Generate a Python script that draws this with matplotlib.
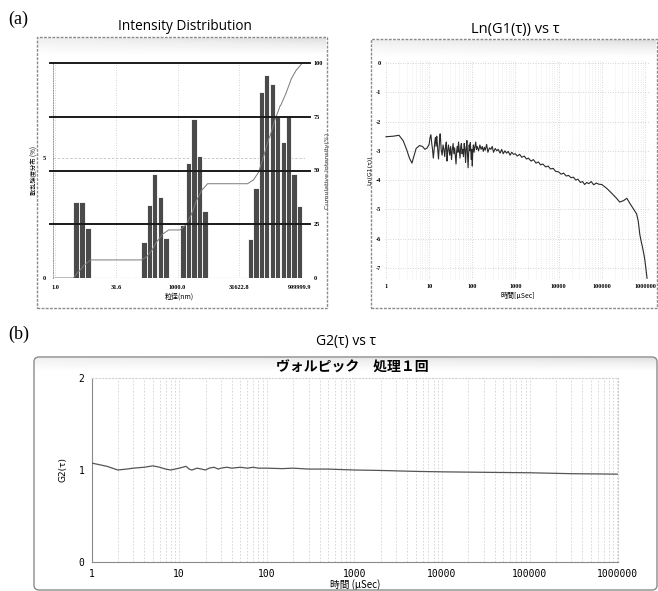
import numpy as np
import matplotlib
matplotlib.use("Agg")
import matplotlib.pyplot as plt
from matplotlib.patches import Rectangle, FancyBboxPatch
from matplotlib.ticker import FixedLocator, NullFormatter, LogLocator

# ---------------- data ----------------
# Intensity distribution (bars), size in nm and intensity %
size_nm = [3.27, 4.58, 6.43,
           151, 204, 275, 380, 525,
           1350, 1860, 2510, 3390, 4680,
           60300, 83200, 112000, 151000, 209000, 282000, 389000, 525000, 708000, 977000]
intensity_pct = [3.16, 3.16, 2.09,
                 1.50, 3.06, 4.35, 3.39, 1.65,
                 2.22, 4.79, 6.63, 5.07, 2.80,
                 1.64, 3.75, 7.75, 8.46, 8.10, 6.71, 5.65, 6.77, 4.34, 3.01]
size_ticks = [1.0, 31.6, 1000.0, 31622.8, 999999.9]
size_tick_labels = ["1.0", "31.6", "1000.0", "31622.8", "999999.9"]
cum_ticks = [0, 25, 50, 75, 100]

# Ln(G1(tau)) vs tau
tau_g1 = [1, 1.5, 2.0, 2.5, 3.0, 3.5, 4.0, 4.5, 5.0, 6.0, 7.0, 8.0, 9.0,
          10, 10.5, 11, 11.5, 12, 12.5, 13, 13.5, 14, 14.5, 15, 15.5, 16, 16.5, 17, 17.5,
          18, 18.5, 19, 20, 21, 22, 23, 24, 25, 26, 27, 28, 29, 30, 31.5, 33, 34.5,
          36, 37.5, 39, 40.5, 42, 43.5, 45, 46.5, 48, 50, 52, 54, 56, 58, 60, 62.5,
          65, 67.5, 70, 72.5, 75, 77.5, 80, 82.5, 85, 87.5, 90, 92.5, 95, 97.5,
          100, 103, 106, 110, 115, 120, 125, 130, 140, 150, 160, 170, 180, 190,
          200, 215, 230, 250, 270, 290, 310, 340, 370, 400, 440, 480, 520, 570,
          620, 680, 750, 820, 900, 1000, 1100, 1250, 1400, 1600, 1800, 2000, 2300,
          2600, 3000, 3400, 3800, 4300, 5000, 5700, 6500, 7500, 8500, 10000, 11500,
          13000, 15000, 17000, 19500, 22000, 25000, 28000, 32000, 36000, 40000,
          45000, 50000, 57000, 65000, 75000, 85000, 100000, 130000, 170000, 220000,
          260000, 320000, 380000, 450000, 550000, 640000, 700000, 760000, 820000,
          880000, 950000, 1000000, 1050000, 1100000, 1120000]
ln_g1 = [-2.52, -2.50, -2.47, -2.65, -2.95, -3.25, -3.42, -3.15, -2.92, -2.82, -2.85, -2.95, -2.90,
         -2.78, -2.55, -2.45, -2.75, -2.95, -3.25, -3.00, -2.70, -2.55, -2.85, -2.50, -2.75, -3.05, -3.28, -2.95, -2.60,
         -2.42, -2.65, -2.95, -3.15, -2.80, -2.95, -3.20, -2.85, -2.70, -3.35, -3.00, -2.80, -2.95, -3.15, -2.85, -3.30, -2.95,
         -2.75, -3.10, -2.90, -3.20, -3.45, -3.00, -2.85, -3.05, -2.70, -3.00, -3.25, -2.85, -2.75, -3.10, -2.95, -3.20,
         -2.75, -2.95, -3.40, -2.90, -2.65, -3.10, -3.58, -3.05, -2.80, -3.00, -2.72, -3.05, -3.30, -2.95,
         -3.52, -3.00, -2.80, -3.05, -2.85, -2.70, -2.95, -2.85, -3.00, -2.80, -2.95, -2.85, -3.02, -2.88,
         -2.98, -2.78, -3.05, -2.90, -2.95, -2.85, -3.05, -2.92, -3.00, -2.95, -3.08, -2.95, -3.10, -3.00,
         -3.08, -3.02, -3.15, -3.05, -3.12, -3.10, -3.18, -3.12, -3.22, -3.18, -3.28, -3.25, -3.35,
         -3.30, -3.42, -3.38, -3.48, -3.45, -3.55, -3.52, -3.62, -3.60, -3.70, -3.72, -3.80,
         -3.76, -3.86, -3.84, -3.92, -3.90, -4.00, -3.97, -4.08, -4.05, -4.15,
         -4.08, -4.12, -4.05, -4.16, -4.10, -4.14, -4.15, -4.28, -4.45, -4.62,
         -4.75, -4.70, -4.62, -4.80, -5.00, -5.15, -5.40, -5.85, -6.10,
         -6.30, -6.55, -6.75, -7.00, -7.25, -7.35]
tau_ticks = [1, 10, 100, 1000, 10000, 100000, 1000000]
tau_tick_labels = ["1", "10", "100", "1000", "10000", "100000", "1000000"]
lng1_ticks = [0, -1, -2, -3, -4, -5, -6, -7]

# G2(tau) vs tau
tau_g2 = [1, 1.5, 2, 2.5, 3, 4, 5, 6, 7, 8, 9, 10, 11, 12, 13, 14, 16, 18, 20,
          22, 25, 28, 30, 35, 40, 50, 60, 70, 80, 100, 150, 200, 300, 500,
          1000, 2000, 5000, 10000, 30000, 100000, 300000, 1000000]
g2 = [1.076, 1.04, 1.00, 1.01, 1.02, 1.03, 1.045, 1.03, 1.01, 1.00, 1.01, 1.02, 1.03, 1.04, 1.01, 1.00, 1.02, 1.01, 1.00,
      1.02, 1.03, 1.01, 1.02, 1.03, 1.02, 1.03, 1.02, 1.03, 1.02, 1.02, 1.015, 1.02, 1.01, 1.01,
      1.00, 0.995, 0.985, 0.98, 0.975, 0.97, 0.96, 0.955]
g2_ticks = [0, 1, 2]

# ---------------- layout helpers ----------------
W, H = 658, 591
fig = plt.figure(figsize=(W / 100, H / 100), dpi=100)
fig.patch.set_facecolor("white")


def rect(x0, y0, x1, y1):
    return [x0 / W, 1 - y1 / H, (x1 - x0) / W, (y1 - y0) / H]


def frame(x0, y0, x1, y1, band=18, rounded=False):
    if rounded:
        p = FancyBboxPatch((x0 / W, 1 - y1 / H), (x1 - x0) / W, (y1 - y0) / H,
                           boxstyle="round,pad=0,rounding_size=0.008",
                           transform=fig.transFigure, fill=False,
                           edgecolor="#8a8a8a", lw=1.0, zorder=0)
    else:
        p = Rectangle((x0 / W, 1 - y1 / H), (x1 - x0) / W, (y1 - y0) / H,
                      transform=fig.transFigure, fill=False,
                      edgecolor="#8a8a8a", lw=1.0, ls=(0, (2, 1)), zorder=0)
    fig.patches.append(p)
    gax = fig.add_axes(rect(x0 + 1, y0 + 1, x1 - 1, y0 + band))
    g = np.linspace(0.22, 0.0, 50)[:, None] * np.linspace(0.6, 1.0, 200)[None, :]
    gax.imshow(g, cmap="Greys", vmin=0, vmax=1, aspect="auto", interpolation="bilinear")
    gax.set_axis_off()
    gax.set_zorder(-1)


serif = "Liberation Serif"
jp = ["Noto Sans CJK JP", "DejaVu Sans"]
title_font = "Open Sans"
grid_kw = dict(color="#c8c8c8", lw=0.6, ls=(0, (1, 2)))

fig.text(8 / W, 1 - 19 / H, "(a)", fontsize=13, family=serif, va="center", ha="left")
fig.text(8 / W, 1 - 334 / H, "(b)", fontsize=13, family=serif, va="center", ha="left")

# ---------------- panel a-left: Intensity distribution ----------------
frame(37, 37, 327, 308)
fig.text(185 / W, 1 - 26 / H, "Intensity Distribution", fontsize=9.8, family=title_font,
         ha="center", va="center")

ax1 = fig.add_axes(rect(53, 63, 305, 278))
ax1.set_xscale("log")
ax1.set_xlim(0.893, 1.32e6)
ax1.set_ylim(0, 8.96)
half = 0.065
lefts = [s * 10 ** (-half) for s in size_nm]
widths = [s * (10 ** half - 10 ** (-half)) for s in size_nm]
ax1.bar(lefts, intensity_pct, width=widths, align="edge", color="#4a4a4a",
        edgecolor="white", lw=0.6, zorder=3)
for xt in size_ticks[:-1]:
    ax1.axvline(xt, zorder=1, **grid_kw)
ax1.axhline(5, color="#c0c0c0", lw=0.6, ls=(0, (3, 2)), zorder=1)
ax1.axhline(0, color="#888888", lw=0.8, ls=(0, (4, 2)), zorder=2)
for s in ["top", "right", "bottom"]:
    ax1.spines[s].set_visible(False)
ax1.spines["left"].set_color("#999999")
ax1.spines["left"].set_linestyle((0, (1, 1.5)))
ax1.spines["left"].set_linewidth(0.7)
ax1.xaxis.set_major_locator(FixedLocator(size_ticks))
ax1.xaxis.set_minor_locator(FixedLocator([]))
ax1.set_xticklabels(size_tick_labels, fontsize=4.5, family=serif, fontweight="bold")
ax1.set_yticks([0, 5])
ax1.set_yticklabels(["0", "5"], fontsize=4.5, family=serif, fontweight="bold")
ax1.tick_params(length=0, pad=5)
ax1.set_xlabel("粒径(nm)", fontsize=5, family=jp, labelpad=2)
ax1.set_ylabel("散乱強度分布 (%)", fontsize=4.5, family=jp, labelpad=3)

ax1r = ax1.twinx()
ax1r.set_ylim(0, 100)
cum = np.cumsum(intensity_pct)
cum = cum / cum[-1] * 100
cx, cy = [1.0], [0.0]
prev = 0.0
for l, w, c in zip(lefts, widths, cum):
    cx += [l, l + w]
    cy += [prev, c]
    prev = c
ax1r.plot(cx, cy, color="#7a7a7a", lw=0.7, zorder=4)
for yv in cum_ticks[1:]:
    ax1r.axhline(yv, xmin=-0.01, xmax=1.02, color="#1a1a1a", lw=1.4, clip_on=False, zorder=5)
for s in ["top", "left", "bottom", "right"]:
    ax1r.spines[s].set_visible(False)
ax1r.set_yticks(cum_ticks)
ax1r.set_yticklabels([str(v) for v in cum_ticks], fontsize=4.5, family=serif, fontweight="bold")
ax1r.tick_params(length=0, pad=6)
ax1r.set_ylabel("Cumulative Intensity(%)", fontsize=4.5, labelpad=2, color="#333333")

# ---------------- panel a-right: Ln(G1) vs tau ----------------
frame(371, 39, 657, 308)
fig.text(515 / W, 1 - 29 / H, "Ln(G1(τ)) vs τ", fontsize=10.5, family=title_font,
         ha="center", va="center")
ax2 = fig.add_axes(rect(385, 60, 650, 280))
ax2.set_xscale("log")
ax2.set_xlim(0.95, 1.31e6)
ax2.set_ylim(-7.41, 0.1)
ax2.xaxis.set_major_locator(FixedLocator(tau_ticks))
ax2.xaxis.set_minor_locator(LogLocator(base=10, subs=np.arange(2, 10), numticks=20))
ax2.xaxis.set_minor_formatter(NullFormatter())
ax2.set_xticklabels(tau_tick_labels, fontsize=4.5, family=serif, fontweight="bold")
ax2.set_yticks(lng1_ticks)
ax2.set_yticklabels([str(v) for v in lng1_ticks], fontsize=4.5, family=serif, fontweight="bold")
ax2.grid(True, which="minor", axis="x", color="#dadada", lw=0.5, ls=(0, (1, 2)))
ax2.grid(True, which="major", axis="x", **grid_kw)
ax2.grid(True, which="major", axis="y", **grid_kw)
ax2.tick_params(which="both", length=0, pad=3)
for s in ax2.spines.values():
    s.set_visible(False)
ax2.plot(tau_g1, ln_g1, color="#2a2a2a", lw=0.8, zorder=3)
ax2.set_xlabel("時間[μSec]", fontsize=5, family=jp, labelpad=2)
ax2.set_ylabel("Ln(G1(τ))", fontsize=4.5, labelpad=2)

# ---------------- panel b: G2 vs tau ----------------
frame(34, 357, 657, 590, band=14, rounded=True)
fig.text(346 / W, 1 - 342 / H, "G2(τ) vs τ", fontsize=10, family=title_font,
         ha="center", va="center")
fig.text(352 / W, 1 - 368 / H, "ヴォルピック　処理１回", fontsize=10, family=jp,
         fontweight="bold", ha="center", va="center")
ax3 = fig.add_axes(rect(91.5, 378, 618, 562))
ax3.set_xscale("log")
ax3.set_xlim(1, 1.02e6)
ax3.set_ylim(0, 2)
ax3.xaxis.set_major_locator(FixedLocator(tau_ticks))
ax3.xaxis.set_minor_locator(LogLocator(base=10, subs=np.arange(2, 10), numticks=20))
ax3.xaxis.set_minor_formatter(NullFormatter())
ax3.set_xticklabels(tau_tick_labels, fontsize=7, family="DejaVu Sans Mono")
ax3.set_yticks(g2_ticks)
ax3.set_yticklabels([str(v) for v in g2_ticks], fontsize=7, family="DejaVu Sans Mono")
ax3.grid(True, which="both", axis="x", color="#d2d2d2", lw=0.6, ls=(0, (2, 2)))
ax3.tick_params(which="both", length=0, pad=5)
for s in ["top", "right"]:
    ax3.spines[s].set_color("#d0d0d0")
    ax3.spines[s].set_linestyle((0, (1, 2)))
for s in ["left", "bottom"]:
    ax3.spines[s].set_color("#8a8a8a")
    ax3.spines[s].set_linewidth(0.8)
ax3.plot(tau_g2, g2, color="#555555", lw=0.9, zorder=3)
ax3.set_xlabel("時間 (μSec)", fontsize=7, family=jp, labelpad=0)
ax3.set_ylabel("G2(τ)", fontsize=6.5, labelpad=8)

fig.savefig("out.png", dpi=100)
